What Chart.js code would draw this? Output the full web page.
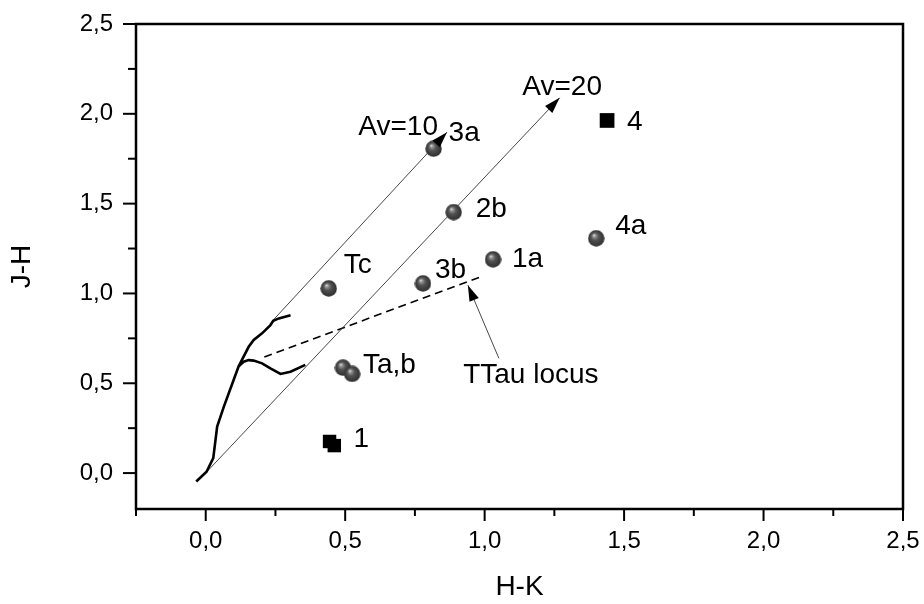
<!DOCTYPE html>
<html><head><meta charset="utf-8">
<script src="https://cdn.jsdelivr.net/npm/chart.js@4.4.1/dist/chart.umd.min.js"></script>
<style>html,body{margin:0;padding:0;background:#fff;overflow:hidden}#wrap{width:924px;height:604px}</style>
</head><body><div id="wrap"><canvas id="c" width="924" height="604"></canvas></div>
<script>
// ---------- data ----------
const xTickValues = [-0.25, 0, 0.25, 0.5, 0.75, 1, 1.25, 1.5, 1.75, 2, 2.25, 2.5];
const yTickValues = [0, 0.25, 0.5, 0.75, 1, 1.25, 1.5, 1.75, 2, 2.25, 2.5];
const xMajorTicks = [0, 0.5, 1, 1.5, 2, 2.5];
const xTickLabels = ['0,0', '0,5', '1,0', '1,5', '2,0', '2,5'];
const yMajorTicks = [0, 0.5, 1, 1.5, 2, 2.5];
const yTickLabels = ['0,0', '0,5', '1,0', '1,5', '2,0', '2,5'];

// main sequence + giant branch (thick line)
const giantLocus = [[-0.034,-0.047],[0.003,0.007],[0.027,0.083],[0.041,0.259],[0.065,0.37],[0.100,0.518],[0.118,0.594],[0.154,0.703],[0.172,0.741],[0.202,0.778],[0.232,0.824],[0.242,0.848],[0.262,0.861],[0.304,0.879]];
// dwarf branch (thick line)
const dwarfLocus = [[0.118,0.594],[0.136,0.620],[0.154,0.629],[0.172,0.626],[0.202,0.611],[0.232,0.583],[0.268,0.552],[0.304,0.564],[0.357,0.602]];
// reddening vectors
const avTenVector = [[0.238,0.845],[0.865,1.898]];
const avTwentyVector = [[0.005,0.009],[1.269,2.089]];
// T Tauri locus (dashed) and its pointer
const ttauLocus = [[0.210,0.646],[0.985,1.092]];
const ttauPointer = [[1.051,0.639],[0.940,1.046]];

// objects
const sphereHK = [0.817, 0.889, 0.441, 0.779, 1.030, 1.400, 0.492, 0.525];
const sphereJH = [1.806, 1.453, 1.028, 1.056, 1.190, 1.307, 0.587, 0.552];
const sphereNames = ['3a', '2b', 'Tc', '3b', '1a', '4a', 'Ta,b', ''];
const squareHK = [0.444, 0.461, 1.439];
const squareJH = [0.176, 0.153, 1.963];
const squareNames = ['1', '', '4'];

// free annotations [text, H-K, J-H]
const annotationTexts = ['Av=10', 'Av=20', 'TTau locus'];
const annotationHK = [0.547, 1.135, 0.923];
const annotationJH = [1.880, 2.102, 0.502];

// ---------- layout / style (not data) ----------
const sphereLabelOffsets = [[15,-8],[22,5],[15,-15],[12,-5],[19,8],[19,-4],[20,5],[0,0]];
const squareLabelOffsets = [[24,6],[0,0],[20,10]];
const FONT = "'Liberation Sans', Arial, sans-serif";

const toPts = arr => arr.map(p => ({x: p[0], y: p[1]}));

function makeSphere(d) {
  const c = document.createElement('canvas');
  c.width = d; c.height = d;
  const g = c.getContext('2d');
  const r = d / 2;
  const grad = g.createRadialGradient(r * 0.72, r * 0.62, 0, r, r, r);
  grad.addColorStop(0, '#f4f4f4');
  grad.addColorStop(0.16, '#9a9a9a');
  grad.addColorStop(0.45, '#525252');
  grad.addColorStop(1, '#2c2c2c');
  g.fillStyle = grad;
  g.beginPath(); g.arc(r, r, r - 0.3, 0, Math.PI * 2); g.fill();
  return c;
}
const sphereImg = makeSphere(17);

const lineDs = (label, pts, width, color, extra) => Object.assign({
  label, data: toPts(pts), showLine: true, borderColor: color, borderWidth: width,
  pointRadius: 0, fill: false, tension: 0, order: 2
}, extra || {});

const datasets = [
  {label: 'spheres', data: sphereHK.map((v, i) => ({x: v, y: sphereJH[i]})), pointStyle: sphereImg, pointRadius: 8, showLine: false, order: 0},
  {label: 'squares', data: squareHK.map((v, i) => ({x: v, y: squareJH[i]})), pointStyle: 'rect', pointRadius: [9.5, 9.5, 10.4], backgroundColor: '#000', borderWidth: 0, showLine: false, order: 0},
  lineDs('giant', giantLocus, 2.6, '#000'),
  lineDs('dwarf', dwarfLocus, 2.6, '#000'),
  lineDs('av10', avTenVector, 0.9, '#333', {arrow: true}),
  lineDs('av20', avTwentyVector, 0.9, '#333', {arrow: true}),
  lineDs('ttau', ttauLocus, 1.6, '#000', {borderDash: [8, 5]}),
  lineDs('pointer', ttauPointer, 0.9, '#333', {arrow: true})
];

const zeroPad = s => { s.paddingTop = 0; s.paddingBottom = 0; s.paddingLeft = 0; s.paddingRight = 0; };

const decorPlugin = {
  id: 'decor',
  afterDatasetsDraw(chart) {
    const ctx = chart.ctx;
    const xs = chart.scales.x, ys = chart.scales.y;
    ctx.save();
    // arrowheads
    chart.data.datasets.forEach((ds, i) => {
      if (!ds.arrow) return;
      const els = chart.getDatasetMeta(i).data;
      const a = els[els.length - 2], b = els[els.length - 1];
      const ang = Math.atan2(b.y - a.y, b.x - a.x);
      const L = 16, W = 5;
      ctx.fillStyle = '#000';
      ctx.beginPath();
      ctx.moveTo(b.x, b.y);
      ctx.lineTo(b.x - L * Math.cos(ang) + W * Math.sin(ang), b.y - L * Math.sin(ang) - W * Math.cos(ang));
      ctx.lineTo(b.x - L * Math.cos(ang) - W * Math.sin(ang), b.y - L * Math.sin(ang) + W * Math.cos(ang));
      ctx.closePath(); ctx.fill();
    });
    // labels
    ctx.fillStyle = '#000';
    ctx.font = '28px ' + FONT;
    ctx.textAlign = 'left';
    ctx.textBaseline = 'alphabetic';
    const sEls = chart.getDatasetMeta(0).data;
    sphereNames.forEach((t, i) => { if (t) ctx.fillText(t, sEls[i].x + sphereLabelOffsets[i][0], sEls[i].y + sphereLabelOffsets[i][1]); });
    const qEls = chart.getDatasetMeta(1).data;
    squareNames.forEach((t, i) => { if (t) ctx.fillText(t, qEls[i].x + squareLabelOffsets[i][0], qEls[i].y + squareLabelOffsets[i][1]); });
    annotationTexts.forEach((t, i) => ctx.fillText(t, xs.getPixelForValue(annotationHK[i]), ys.getPixelForValue(annotationJH[i])));
    ctx.restore();
  },
  afterDraw(chart) {
    const ctx = chart.ctx, a = chart.chartArea;
    const xs = chart.scales.x, ys = chart.scales.y;
    ctx.save();
    ctx.strokeStyle = '#000';
    ctx.lineWidth = 2.5;
    ctx.strokeRect(a.left, a.top, a.right - a.left, a.bottom - a.top);
    ctx.lineWidth = 2;
    xs.ticks.forEach(t => {
      const px = xs.getPixelForValue(t.value);
      const len = xMajorTicks.includes(t.value) ? 12 : 7;
      ctx.beginPath(); ctx.moveTo(px, a.bottom); ctx.lineTo(px, a.bottom + len); ctx.stroke();
    });
    ys.ticks.forEach(t => {
      const py = ys.getPixelForValue(t.value);
      const len = yMajorTicks.includes(t.value) ? 13 : 8;
      ctx.beginPath(); ctx.moveTo(a.left, py); ctx.lineTo(a.left - len, py); ctx.stroke();
    });
    ctx.restore();
  }
};

new Chart(document.getElementById('c'), {
  type: 'scatter',
  data: {datasets},
  options: {
    responsive: false,
    animation: false,
    events: [],
    devicePixelRatio: 1,
    layout: {padding: {left: 0, right: 21, top: 24, bottom: 0}},
    plugins: {legend: {display: false}, tooltip: {enabled: false}},
    scales: {
      x: {
        type: 'linear', min: -0.25, max: 2.5,
        afterBuildTicks: s => { s.ticks = xTickValues.map(v => ({value: v})); },
        afterFit: s => { s.height = 95; zeroPad(s); },
        grid: {display: false, drawTicks: false},
        border: {display: false},
        ticks: {
          autoSkip: false, maxRotation: 0, padding: 18, color: '#000',
          font: {family: FONT, size: 24},
          callback: v => { const k = xMajorTicks.indexOf(v); return k >= 0 ? xTickLabels[k] : ''; }
        },
        title: {display: true, text: 'H-K', color: '#000', font: {family: FONT, size: 28}, padding: {top: 0, bottom: 0}}
      },
      y: {
        type: 'linear', min: -0.2, max: 2.5,
        afterBuildTicks: s => { s.ticks = yTickValues.map(v => ({value: v})); },
        afterFit: s => { s.width = 136; zeroPad(s); },
        grid: {display: false, drawTicks: false},
        border: {display: false},
        ticks: {
          autoSkip: false, padding: 23, color: '#000',
          font: {family: FONT, size: 24},
          callback: v => { const k = yMajorTicks.indexOf(v); return k >= 0 ? yTickLabels[k] : ''; }
        },
        title: {display: true, text: 'J-H', color: '#000', font: {family: FONT, size: 28}, padding: {top: 5, bottom: 0}}
      }
    }
  },
  plugins: [decorPlugin]
});
</script>
</body></html>
